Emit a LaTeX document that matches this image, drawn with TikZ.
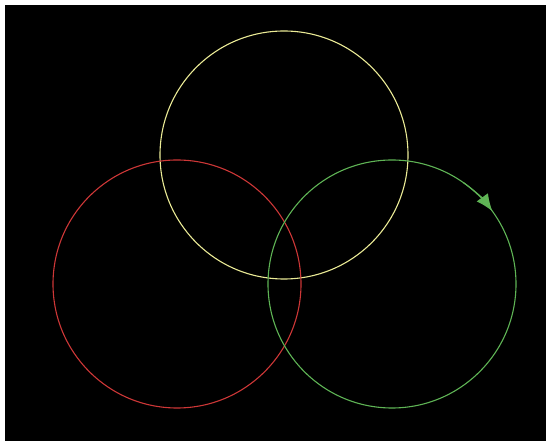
\documentclass[tikz,border=0pt]{standalone}
\usetikzlibrary{arrows.meta}
\definecolor{cyellow}{RGB}{235,235,150}
\definecolor{cred}{RGB}{205,55,55}
\definecolor{cgreen}{RGB}{95,180,85}
\begin{document}
\begin{tikzpicture}[x=1pt,y=1pt,
  ring/.style={circle,draw=#1,line width=1.1pt,minimum size=248pt,inner sep=0pt}]
\useasboundingbox (0,0) rectangle (546,441);
\fill[black] (5,0) rectangle (546,436);
\node[ring=cyellow] (Y) at (284,286) {};
\node[ring=cred] (R) at (177,157) {};
\node[ring=cgreen] (G) at (392,157) {};
\draw[cgreen,line width=1.1pt,-{Latex[length=17pt,width=14pt]}]
  (G.center) ++(55:124) arc[start angle=55,end angle=36,radius=124];
\end{tikzpicture}
\end{document}
